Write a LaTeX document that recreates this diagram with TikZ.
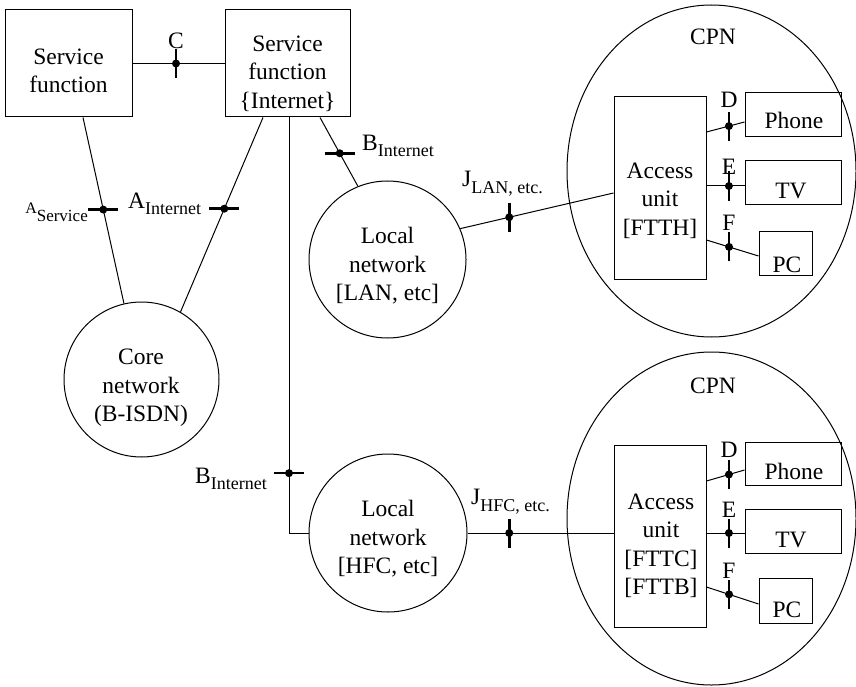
\documentclass[tikz,border=0pt]{standalone}
\usepackage{fontspec}
\setmainfont{Liberation Serif}
\usetikzlibrary{shapes.geometric}
\newcommand\lsub[2][6pt]{\raisebox{-#1}{\fontsize{18}{18}\selectfont #2}}
\begin{document}
\begin{tikzpicture}[x=1pt,y=-1pt,
  every node/.style={font=\fontsize{23.5}{28.5}\selectfont},
  box/.style={draw, line width=1pt, inner sep=0pt},
  rnd/.style={draw, line width=1pt, circle, inner sep=0pt},
  ell/.style={draw, line width=1pt, ellipse, inner sep=0pt},
  txt/.style={align=center, inner sep=0pt},
  lbl/.style={inner sep=0pt},
  ln/.style={line width=1pt},
  pics/tickh/.style={code={\draw[line width=2.6pt] (-15pt,0)--(15pt,0); \fill (0,0) circle[radius=4pt];}},
  pics/tickv/.style={code={\draw[line width=2.6pt] (0,-14.5pt)--(0,14.5pt); \fill (0,0) circle[radius=4pt];}}
]
\useasboundingbox (0,0) rectangle (856,687);

% boxes and clouds
\node[box, minimum width=127pt, minimum height=107pt] (sf1) at (68.5,63.5) {};
\node[txt] (sf1t) at (68.5,71) {Service\\function};
\node[box, minimum width=125pt, minimum height=107pt] (sf2) at (287.5,63.5) {};
\node[txt] (sf2t) at (287.5,73.5) {Service\\function\\\{Internet\}};
\node[rnd, minimum size=155pt] (core) at (141.5,379.5) {};
\node[txt] (coret) at (141,388) {Core\\network\\(B-ISDN)};
\node[rnd, minimum size=157pt] (lan) at (387.5,259.5) {};
\node[txt] (lant) at (387.5,266) {Local\\network\\{[LAN, etc]}};
\node[rnd, minimum size=158pt] (hfc) at (388,533) {};
\node[txt] (hfct) at (388,539) {Local\\network\\{[HFC, etc]}};

\node[ell, minimum width=289pt, minimum height=332pt] (cpn1) at (711.5,171) {};
\node[lbl, anchor=base] (cpn1t) at (713,45) {CPN};
\node[box, minimum width=92pt, minimum height=182pt] (au1) at (660,188) {};
\node[txt] (au1t) at (660,200.5) {Access\\unit\\{[FTTH]}};
\node[box, minimum width=96pt, minimum height=44pt] (ph1) at (793,115) {};
\node[lbl, anchor=base] (ph1t) at (794,129) {Phone};
\node[box, minimum width=96pt, minimum height=43pt] (tv1) at (793,182.5) {};
\node[lbl, anchor=base] (tv1t) at (791,198) {TV};
\node[box, minimum width=53pt, minimum height=44pt] (pc1) at (785.5,253) {};
\node[lbl, anchor=base] (pc1t) at (787,272) {PC};

\node[ell, minimum width=289pt, minimum height=333pt] (cpn2) at (711.5,518.5) {};
\node[lbl, anchor=base] (cpn2t) at (713,393) {CPN};
\node[box, minimum width=92pt, minimum height=182pt] (au2) at (660,536) {};
\node[txt] (au2t) at (661,546) {Access\\unit\\{[FTTC]}\\{[FTTB]}};
\node[box, minimum width=96pt, minimum height=43pt] (ph2) at (793,463.5) {};
\node[lbl, anchor=base] (ph2t) at (794,479) {Phone};
\node[box, minimum width=96pt, minimum height=44pt] (tv2) at (793,531) {};
\node[lbl, anchor=base] (tv2t) at (791,547) {TV};
\node[box, minimum width=53pt, minimum height=45pt] (pc2) at (785.5,600.5) {};
\node[lbl, anchor=base] (pc2t) at (787,617) {PC};

% connectors
\draw[ln] (sf1) -- (sf2) coordinate[pos=0.473] (mC);
\draw[ln] ([xshift=14.5pt]sf1.south) -- (core.103) coordinate[pos=0.495] (mAs);
\draw[ln] ([xshift=-24.5pt]sf2.south) -- (core.60) coordinate[pos=0.469] (mAi);
\draw[ln] ([xshift=32.5pt]sf2.south) -- (lan.112) coordinate[pos=0.52] (mBu);
\draw[ln] ([xshift=1.5pt]sf2.south) |- (hfc.west) coordinate[pos=0.428] (mBl);
\draw[ln] (lan.23) -- ([yshift=-5pt]au1.west) coordinate[pos=0.32] (mJl);
\draw[ln] (hfc.east) -- (hfc.east -| au2.west) coordinate[pos=0.286] (mJh);

\draw[ln] ([yshift=56pt]au1.east) -- ([yshift=-7pt]ph1.west) coordinate[pos=0.59] (mD1);
\draw[ln] ([yshift=2pt]au1.east) -- ([yshift=-3.5pt]tv1.west) coordinate[pos=0.59] (mE1);
\draw[ln] ([yshift=-52pt]au1.east) -- ([yshift=-3pt]pc1.west) coordinate[pos=0.434] (mF1);
\draw[ln] ([yshift=55pt]au2.east) -- ([yshift=-6.5pt]ph2.west) coordinate[pos=0.59] (mD2);
\draw[ln] ([yshift=3pt]au2.east) -- ([yshift=-2pt]tv2.west) coordinate[pos=0.59] (mE2);
\draw[ln] ([yshift=-51pt]au2.east) -- ([yshift=-3.5pt]pc2.west) coordinate[pos=0.434] (mF2);

% reference point markers
\pic at (mC) {tickv};
\pic at (mAs) {tickh};
\pic at (mAi) {tickh};
\pic at (mBu) {tickh};
\pic at (mBl) {tickh};
\pic at (mJl) {tickv};
\pic at (mJh) {tickv};
\pic at (mD1) {tickv};
\pic at (mE1) {tickv};
\pic at (mF1) {tickv};
\pic at (mD2) {tickv};
\pic at (mE2) {tickv};
\pic at (mF2) {tickv};

% labels
\node[lbl, anchor=base] (lC) at (176,49) {C};
\node[lbl, anchor=base east] (lAs) at (88,213) {{\fontsize{16}{16}\selectfont A}\raisebox{-9pt}{\fontsize{17}{17}\selectfont Service}};
\node[lbl, anchor=base west] (lAi) at (128,208) {A\lsub[6pt]{Internet}};
\node[lbl, anchor=base west] (lBu) at (362,151) {B\lsub[6pt]{Internet}};
\node[lbl, anchor=base west] (lBl) at (195,483) {B\lsub[6pt]{Internet}};
\node[lbl, anchor=base west] (lJl) at (462,186) {J\lsub[7pt]{LAN, etc.}};
\node[lbl, anchor=base west] (lJh) at (471,504) {J\lsub[7pt]{HFC, etc.}};
\node[lbl, anchor=base] (lD1) at (729,108) {D};
\node[lbl, anchor=base] (lE1) at (729,175) {E};
\node[lbl, anchor=base] (lF1) at (729,230) {F};
\node[lbl, anchor=base] (lD2) at (729,457) {D};
\node[lbl, anchor=base] (lE2) at (729,517) {E};
\node[lbl, anchor=base] (lF2) at (729,578) {F};
\end{tikzpicture}
\end{document}
